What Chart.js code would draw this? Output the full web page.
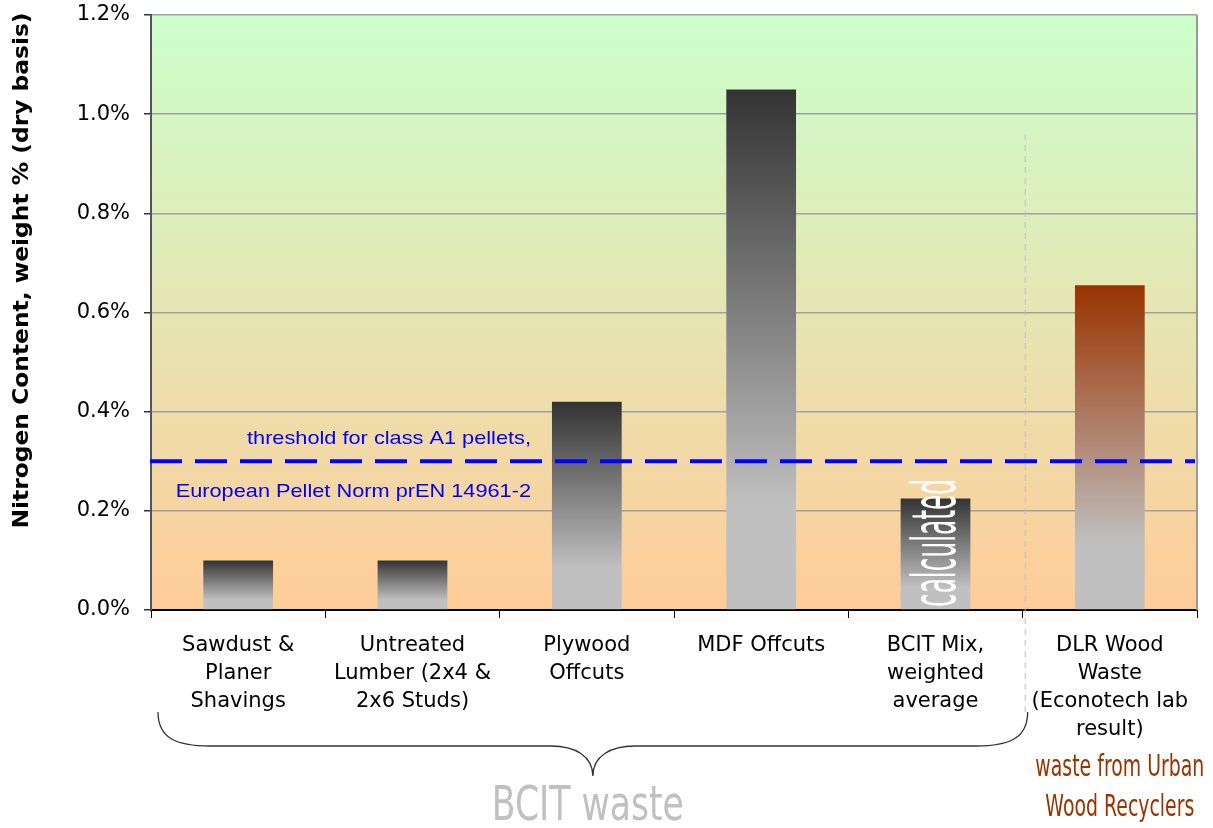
<!DOCTYPE html>
<html>
<head>
<meta charset="utf-8">
<script src="https://cdn.jsdelivr.net/npm/chart.js@4.4.1/dist/chart.umd.min.js"></script>
<style>
  html, body { margin: 0; padding: 0; background: #ffffff; }
  canvas { display: block; }
</style>
</head>
<body>
<canvas id="chart" width="1213" height="828"></canvas>
<script>
// Nitrogen content of wood-waste fuel samples (weight %, dry basis)
const categories = [
  ['Sawdust &', 'Planer', 'Shavings'],
  ['Untreated', 'Lumber (2x4 &', '2x6 Studs)'],
  ['Plywood', 'Offcuts'],
  ['MDF Offcuts'],
  ['BCIT Mix,', 'weighted', 'average'],
  ['DLR Wood', 'Waste', '(Econotech lab', 'result)']
];
const nitrogenPct = [0.10, 0.10, 0.42, 1.05, 0.225, 0.655];
const barTopColors = ['#333333', '#333333', '#333333', '#333333', '#333333', '#993300'];
const yTickValues = [0, 0.2, 0.4, 0.6, 0.8, 1.0, 1.2];
const thresholdPct = 0.30;
const thresholdLines = ['threshold for class A1 pellets,', 'European Pellet Norm prEN 14961-2'];
const yTitle = 'Nitrogen Content, weight % (dry basis)';
const calcNote = 'calculated';
const groupLabel = 'BCIT waste';
const sourceLines = ['waste from Urban', 'Wood Recyclers'];

// Vertical gradient for each bar: dark (or brown) top fading to silver
function barFill(context) {
  const chart = context.chart;
  const i = context.dataIndex;
  if (i === undefined) return '#333333';
  const area = chart.chartArea;
  if (!area) return barTopColors[i];
  const y = chart.scales.y;
  const top = y.getPixelForValue(nitrogenPct[i]);
  const base = y.getPixelForValue(0);
  const g = chart.ctx.createLinearGradient(0, top, 0, base);
  g.addColorStop(0, barTopColors[i]);
  g.addColorStop(0.8, '#c0c0c0');
  g.addColorStop(1, '#c0c0c0');
  return g;
}

// Draws text, optionally stretched horizontally to a given width and rotated
function drawText(ctx, text, x, y, o) {
  ctx.save();
  ctx.font = o.font;
  ctx.fillStyle = o.color;
  ctx.textBaseline = o.baseline || 'alphabetic';
  ctx.textAlign = 'left';
  ctx.translate(x, y);
  if (o.rotate) ctx.rotate(o.rotate);
  const w = ctx.measureText(text).width;
  const sx = o.width ? o.width / w : (o.scaleX || 1);
  ctx.scale(sx, 1);
  let ox = 0;
  if (o.align === 'center') ox = -w / 2;
  else if (o.align === 'right') ox = -w;
  ctx.fillText(text, ox, 0);
  ctx.restore();
  return sx;
}

function textScale(ctx, font, text, width) {
  ctx.save();
  ctx.font = font;
  const w = ctx.measureText(text).width;
  ctx.restore();
  return width / w;
}

const plotBackground = {
  id: 'plotBackground',
  beforeDraw(chart) {
    const { ctx, chartArea: a } = chart;
    ctx.save();
    ctx.fillStyle = '#ffffff';
    ctx.fillRect(0, 0, chart.width, chart.height);
    const g = ctx.createLinearGradient(0, a.top, 0, a.bottom);
    g.addColorStop(0, '#ccffcc');
    g.addColorStop(1, '#ffcc99');
    ctx.fillStyle = g;
    ctx.fillRect(a.left, a.top, a.right - a.left, a.bottom - a.top);
    ctx.restore();
  }
};

const annotations = {
  id: 'annotations',
  beforeDatasetsDraw(chart) {
    const { ctx, chartArea: a, scales: { x, y } } = chart;
    // separator between the BCIT samples and the recycler sample
    const sepX = (x.getPixelForValue(4) + x.getPixelForValue(5)) / 2 + 2;
    ctx.save();
    ctx.strokeStyle = '#c0c0c0';
    ctx.lineWidth = 1;
    ctx.setLineDash([6, 5]);
    ctx.beginPath();
    ctx.moveTo(sepX + 0.5, y.getPixelForValue(0.96));
    ctx.lineTo(sepX + 0.5, a.bottom + 105);
    ctx.stroke();
    ctx.restore();
    // right edge of the plot frame
    ctx.save();
    ctx.strokeStyle = '#999999';
    ctx.lineWidth = 2;
    ctx.beginPath();
    ctx.moveTo(a.right, a.top);
    ctx.lineTo(a.right, a.bottom);
    ctx.stroke();
    ctx.restore();
  },
  afterDatasetsDraw(chart) {
    const { ctx, chartArea: a, scales: { x, y } } = chart;
    const ty = y.getPixelForValue(thresholdPct);

    // threshold line
    ctx.save();
    ctx.strokeStyle = '#0000ff';
    ctx.lineWidth = 4;
    ctx.setLineDash([32, 13]);
    ctx.beginPath();
    ctx.moveTo(a.left - 1, ty);
    ctx.lineTo(a.right - 2, ty);
    ctx.stroke();
    ctx.restore();

    // threshold captions
    const capFont = '19px "Liberation Sans", Arial, sans-serif';
    const capRight = a.left + 380;
    const s = textScale(ctx, capFont, thresholdLines[0], 284);
    drawText(ctx, thresholdLines[0], capRight, ty - 17, { font: capFont, color: '#0000ee', align: 'right', scaleX: s });
    drawText(ctx, thresholdLines[1], capRight, ty + 36, { font: capFont, color: '#0000ee', align: 'right', scaleX: s });

    // note inside the weighted-average bar
    const bx = x.getPixelForValue(4);
    drawText(ctx, calcNote, bx + 19, a.bottom - 3, {
      font: '60px "DejaVu Sans", sans-serif', color: '#ffffff',
      rotate: -Math.PI / 2, width: 128
    });
  },
  afterDraw(chart) {
    const { ctx, chartArea: a, scales: { x, y } } = chart;

    // y-axis title
    drawText(ctx, yTitle, 28, (a.top + a.bottom) / 2 - 42, {
      font: 'bold 21px "DejaVu Sans", Verdana, sans-serif', color: '#000000',
      rotate: -Math.PI / 2, align: 'center', width: 516
    });

    // curly brace under the BCIT samples
    const L = a.left + 7;
    const R = (x.getPixelForValue(4) + x.getPixelForValue(5)) / 2 + 5;
    const M = (L + R) / 2;
    const yTop = a.bottom + 102;
    const yMid = a.bottom + 136;
    const yTip = a.bottom + 166;
    ctx.save();
    ctx.strokeStyle = '#333333';
    ctx.lineWidth = 1.3;
    ctx.beginPath();
    ctx.moveTo(L, yTop);
    ctx.bezierCurveTo(L, yMid - 8, L + 18, yMid, L + 52, yMid);
    ctx.lineTo(M - 42, yMid);
    ctx.bezierCurveTo(M - 18, yMid, M, yMid + 10, M, yTip);
    ctx.bezierCurveTo(M, yMid + 10, M + 18, yMid, M + 42, yMid);
    ctx.lineTo(R - 52, yMid);
    ctx.bezierCurveTo(R - 18, yMid, R, yMid - 8, R, yTop);
    ctx.stroke();
    ctx.restore();

    // group label under the brace
    drawText(ctx, groupLabel, M - 5, a.bottom + 210, {
      font: '48px "DejaVu Sans", sans-serif', color: '#c0c0c0', align: 'center', width: 192
    });

    // source note under the last category
    const srcFont = '31px "DejaVu Sans", sans-serif';
    const sx = x.getPixelForValue(5) + 10;
    const ss = textScale(ctx, srcFont, sourceLines[0], 169);
    drawText(ctx, sourceLines[0], sx, a.bottom + 166, { font: srcFont, color: '#993300', align: 'center', scaleX: ss });
    drawText(ctx, sourceLines[1], sx, a.bottom + 206, { font: srcFont, color: '#993300', align: 'center', scaleX: ss });
  }
};

new Chart(document.getElementById('chart'), {
  type: 'bar',
  data: {
    labels: categories,
    datasets: [{
      data: nitrogenPct,
      backgroundColor: barFill,
      borderWidth: 0,
      barPercentage: 0.4,
      categoryPercentage: 1.0
    }]
  },
  options: {
    responsive: false,
    animation: false,
    devicePixelRatio: 1,
    layout: { padding: { top: 15, right: 16, left: 0, bottom: 0 } },
    plugins: { legend: { display: false }, tooltip: { enabled: false } },
    scales: {
      x: {
        grid: { display: true, drawOnChartArea: false, drawTicks: true, tickLength: 8, color: '#000000', offset: true },
        border: { display: true, color: '#000000', width: 2 },
        ticks: {
          color: '#000000',
          font: { family: '"DejaVu Sans", Verdana, sans-serif', size: 21, lineHeight: 1.33 },
          maxRotation: 0, minRotation: 0, autoSkip: false, padding: 14
        },
        afterFit(scale) {
          scale.height = 218;
          scale.paddingLeft = 0;
          scale.paddingRight = 0;
        }
      },
      y: {
        min: 0, max: 1.2,
        afterBuildTicks(scale) { scale.ticks = yTickValues.map(v => ({ value: v })); },
        grid: { color: '#a0a0a0', lineWidth: 1.5, tickLength: 7, tickColor: '#333333' },
        border: { display: true, color: '#555555', width: 2 },
        ticks: {
          color: '#000000',
          font: { family: '"DejaVu Sans", Verdana, sans-serif', size: 21 },
          padding: 14,
          callback: v => Number(v).toFixed(1) + '%'
        },
        afterFit(scale) {
          scale.width = 151;
          scale.paddingTop = 0;
          scale.paddingBottom = 0;
        }
      }
    }
  },
  plugins: [plotBackground, annotations]
});
</script>
</body>
</html>
